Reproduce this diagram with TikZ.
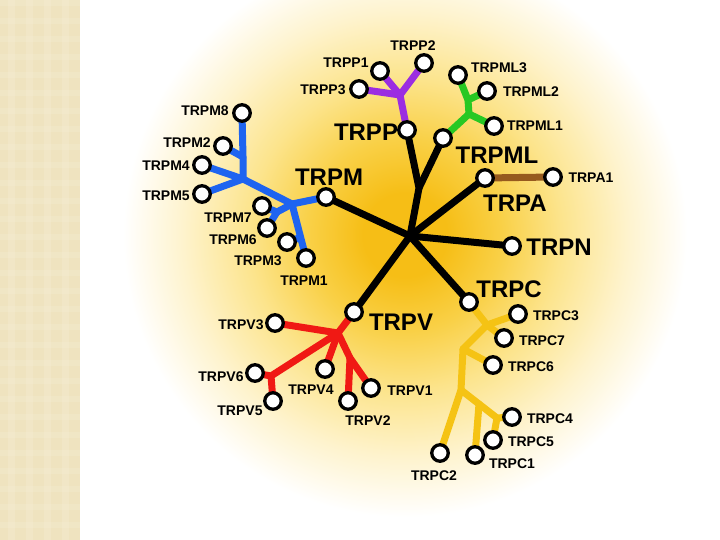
\documentclass[tikz,border=0pt]{standalone}
\usepackage{fontspec}
\setmainfont{Liberation Sans}
\usetikzlibrary{shadows}
\definecolor{glowA}{RGB}{246,190,22}
\definecolor{glowM}{RGB}{249,208,70}
\definecolor{glowB}{RGB}{252,228,140}
\definecolor{glowC}{RGB}{254,243,205}
\definecolor{stripe}{RGB}{239,227,191}
\definecolor{stripeL}{RGB}{246,239,216}
\definecolor{cPurple}{RGB}{155,45,225}
\definecolor{cGreen}{RGB}{40,200,35}
\definecolor{cBlue}{RGB}{30,100,240}
\definecolor{cRed}{RGB}{240,25,20}
\definecolor{cYellow}{RGB}{245,195,20}
\definecolor{cBrown}{RGB}{150,90,30}
\pgfdeclareradialshading{glow}{\pgfpoint{0bp}{0bp}}{color(0bp)=(glowA); color(3.5bp)=(glowA); color(8bp)=(glowM); color(13bp)=(glowB); color(18.5bp)=(glowC); color(23.5bp)=(white); color(50bp)=(white)}
\pgfdeclarelayer{bg}
\pgfdeclarelayer{lines}
\pgfsetlayers{bg,lines,main}
\tikzset{
  gene/.style={circle, draw=black, line width=3.3pt, fill=white, minimum size=16.5pt, inner sep=0pt,
    drop shadow={fill=black, opacity=1, shadow xshift=1pt, shadow yshift=-1pt}},
  big/.style={font=\fontsize{24}{24}\selectfont\bfseries, inner sep=0pt},
  small/.style={font=\fontsize{14}{14}\selectfont\bfseries, inner sep=0pt},
  branch/.style={line width=7pt, line cap=round, line join=round},
}
\begin{document}
\begin{tikzpicture}[x=1pt,y=-1pt]
\useasboundingbox (0,0) rectangle (720,540);
\begin{pgfonlayer}{bg}
  \fill[white] (0,0) rectangle (720,540);
  \begin{scope}
    \clip (80,0) rectangle (720,540);
    \shade[shading=glow] (405,235) circle (300);
  \end{scope}
  \fill[stripe] (0,0) rectangle (80,540);
  \foreach \x in {8,26,44,62} {\fill[stripeL,opacity=0.3] (\x,0) rectangle ++(7,540);}
  \foreach \y in {0,18,...,540} {\fill[stripeL,opacity=0.25] (0,\y) rectangle ++(80,6);}
\end{pgfonlayer}

% coordinates of junctions
\coordinate (hub) at (410,236);
\coordinate (jPT) at (419,188);
\coordinate (jP) at (400,95);
\coordinate (jG) at (469,114);
\coordinate (jG2) at (468,100);
\coordinate (jA) at (292,204);
\coordinate (jB) at (243,179);
\coordinate (jC) at (243,157);
\coordinate (jM76) at (277,212);
\coordinate (jM3) at (299,238);
\coordinate (jR) at (338,333);
\coordinate (jV6) at (271,376);
\coordinate (jV12) at (350,358);
\coordinate (jY1) at (487,325);
\coordinate (jY2) at (463,349);
\coordinate (jY3) at (461,390);
\coordinate (jY5) at (479,404);
\coordinate (jY4) at (497,418);

% gene nodes
\node[gene] (TRPP) at (407,130) {};
\node[gene] (TRPML) at (443,138) {};
\node[gene] (TRPM) at (326,197) {};
\node[gene] (TRPA) at (485,178) {};
\node[gene] (TRPN) at (512,246) {};
\node[gene] (TRPC) at (469,302) {};
\node[gene] (TRPV) at (354,312) {};

\node[gene] (P1) at (380,71) {};
\node[gene] (P2) at (424,63) {};
\node[gene] (P3) at (359,89) {};

\node[gene] (ML3) at (458,75) {};
\node[gene] (ML2) at (487,91) {};
\node[gene] (ML1) at (494,126) {};

\node[gene] (A1) at (553,177) {};

\node[gene] (M8) at (242,113) {};
\node[gene] (M2) at (223,146) {};
\node[gene] (M4) at (202,165) {};
\node[gene] (M5) at (202,194) {};
\node[gene] (M7) at (262,206) {};
\node[gene] (M6) at (267,228) {};
\node[gene] (M3) at (287,242) {};
\node[gene] (M1) at (306,258) {};

\node[gene] (V3) at (275,323) {};
\node[gene] (V6) at (255,373) {};
\node[gene] (V5) at (273,401) {};
\node[gene] (V4) at (325,369) {};
\node[gene] (V2) at (348,401) {};
\node[gene] (V1) at (371,388) {};

\node[gene] (C3) at (518,314) {};
\node[gene] (C7) at (504,338) {};
\node[gene] (C6) at (493,365) {};
\node[gene] (C4) at (512,417) {};
\node[gene] (C5) at (493,440) {};
\node[gene] (C1) at (475,455) {};
\node[gene] (C2) at (440,453) {};

% labels
\node[big] (lTRPP) at (366,132) {TRPP};
\node[big] (lTRPM) at (329,177) {TRPM};
\node[big] (lTRPML) at (497,155) {TRPML};
\node[big] (lTRPA) at (515,203) {TRPA};
\node[big] (lTRPN) at (559,247) {TRPN};
\node[big] (lTRPC) at (509,289) {TRPC};
\node[big] (lTRPV) at (401,322) {TRPV};

\node[small] (lP1) at (346,63) {TRPP1};
\node[small] (lP2) at (413,46) {TRPP2};
\node[small] (lP3) at (323,90) {TRPP3};
\node[small] (lML3) at (499,68) {TRPML3};
\node[small] (lML2) at (531,92) {TRPML2};
\node[small] (lML1) at (535,126) {TRPML1};
\node[small] (lA1) at (591,178) {TRPA1};
\node[small] (lM8) at (205,111) {TRPM8};
\node[small] (lM2) at (187,143) {TRPM2};
\node[small] (lM4) at (166,166) {TRPM4};
\node[small] (lM5) at (166,196) {TRPM5};
\node[small] (lM7) at (228,218) {TRPM7};
\node[small] (lM6) at (233,240) {TRPM6};
\node[small] (lM3) at (258,261) {TRPM3};
\node[small] (lM1) at (304,281) {TRPM1};
\node[small] (lV3) at (241,325) {TRPV3};
\node[small] (lV6) at (221,377) {TRPV6};
\node[small] (lV5) at (240,411) {TRPV5};
\node[small] (lV4) at (311,390) {TRPV4};
\node[small] (lV2) at (368,421) {TRPV2};
\node[small] (lV1) at (410,391) {TRPV1};
\node[small] (lC3) at (556,316) {TRPC3};
\node[small] (lC7) at (542,341) {TRPC7};
\node[small] (lC6) at (531,367) {TRPC6};
\node[small] (lC4) at (550,419) {TRPC4};
\node[small] (lC5) at (531,442) {TRPC5};
\node[small] (lC1) at (512,464) {TRPC1};
\node[small] (lC2) at (434,476) {TRPC2};

\begin{pgfonlayer}{lines}
  % black trunk
  \draw[branch,black] (hub) -- (jPT) -- (TRPP.center);
  \draw[branch,black] (jPT) -- (TRPML.center);
  \draw[branch,black] (hub) -- (TRPM.center);
  \draw[branch,black] (hub) -- (TRPA.center);
  \draw[branch,black] (hub) -- (TRPN.center);
  \draw[branch,black] (hub) -- (TRPC.center);
  \draw[branch,black] (hub) -- (TRPV.center);
  % purple
  \draw[branch,cPurple] (TRPP.center) -- (jP) -- (P3.center);
  \draw[branch,cPurple] (jP) -- (P1.center);
  \draw[branch,cPurple] (jP) -- (P2.center);
  % green
  \draw[branch,cGreen] (TRPML.center) -- (jG) -- (ML1.center);
  \draw[branch,cGreen] (jG) -- (jG2) -- (ML3.center);
  \draw[branch,cGreen] (jG2) -- (ML2.center);
  % brown
  \draw[branch,cBrown] (TRPA.center) -- (A1.center);
  % blue
  \draw[branch,cBlue] (TRPM.center) -- (jA) -- (M1.center);
  \draw[branch,cBlue] (jA) -- (jM76) -- (M7.center);
  \draw[branch,cBlue] (jM76) -- (M6.center);
  \draw[branch,cBlue] (jM3) -- (M3.center);
  \draw[branch,cBlue] (jA) -- (jB) -- (M5.center);
  \draw[branch,cBlue] (jB) -- (M4.center);
  \draw[branch,cBlue] (jB) -- (jC) -- (M8.center);
  \draw[branch,cBlue] (jC) -- (M2.center);
  % red
  \draw[branch,cRed] (TRPV.center) -- (jR) -- (V3.center);
  \draw[branch,cRed] (jR) -- (jV6) -- (V6.center);
  \draw[branch,cRed] (jV6) -- (V5.center);
  \draw[branch,cRed] (jR) -- (V4.center);
  \draw[branch,cRed] (jR) -- (jV12) -- (V1.center);
  \draw[branch,cRed] (jV12) -- (V2.center);
  % yellow
  \draw[branch,cYellow] (TRPC.center) -- (jY1) -- (C3.center);
  \draw[branch,cYellow] (jY1) -- (C7.center);
  \draw[branch,cYellow] (jY1) -- (jY2) -- (C6.center);
  \draw[branch,cYellow] (jY2) -- (jY3) -- (C2.center);
  \draw[branch,cYellow] (jY3) -- (jY5) -- (jY4) -- (C4.center);
  \draw[branch,cYellow] (jY4) -- (C5.center);
  \draw[branch,cYellow] (jY5) -- (C1.center);
\end{pgfonlayer}
\end{tikzpicture}
\end{document}
